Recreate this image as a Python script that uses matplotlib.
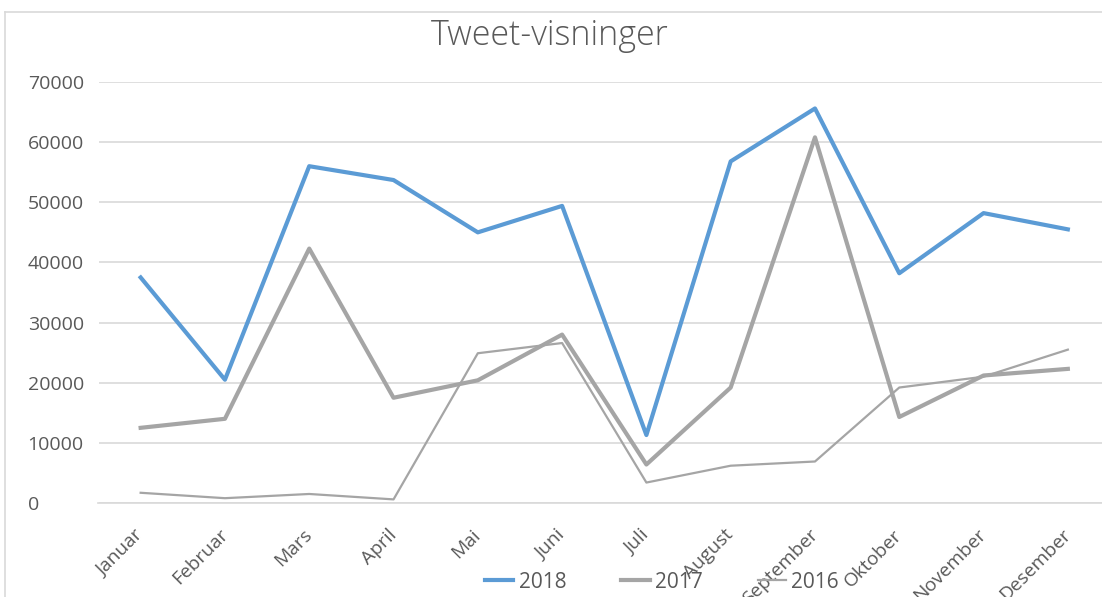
import matplotlib
matplotlib.use("Agg")
import matplotlib.pyplot as plt
import matplotlib.transforms as mtransforms
from matplotlib.lines import Line2D

months = ["Januar", "Februar", "Mars", "April", "Mai", "Juni", "Juli",
          "August", "September", "Oktober", "November", "Desember"]
views_2018 = [37500, 20500, 56000, 53700, 45000, 49400, 11300, 56800, 65600, 38200, 48200, 45500]
views_2017 = [12500, 14000, 42300, 17500, 20400, 28000, 6400, 19200, 60800, 14300, 21200, 22300]
views_2016 = [1700, 800, 1500, 600, 24900, 26600, 3400, 6200, 6900, 19200, 21000, 25500]
y_ticks = [0, 10000, 20000, 30000, 40000, 50000, 60000, 70000]

BLUE = "#5B9BD5"
GREY = "#A5A5A5"
TEXT = "#595959"
GRID = "#D9D9D9"

plt.rcParams["font.family"] = ["Open Sans", "DejaVu Sans"]

fig = plt.figure(figsize=(11.02, 5.97), dpi=100)
fig.patch.set_facecolor("white")
ax = fig.add_axes([98.5 / 1102, 94 / 597, 1011.5 / 1102, 421 / 597])

x = list(range(len(months)))
ax.plot(x, views_2018, color=BLUE, lw=3.0, label="2018", solid_joinstyle="round", zorder=4)
ax.plot(x, views_2017, color=GREY, lw=3.0, label="2017", solid_joinstyle="round", zorder=3)
ax.plot(x, views_2016, color=GREY, lw=1.6, label="2016", solid_joinstyle="round", zorder=2)

ax.set_xlim(-0.5, len(months) - 0.5)
ax.set_ylim(0, 70000)
ax.set_yticks(y_ticks)
ax.set_yticklabels([str(v) for v in y_ticks])
ax.yaxis.grid(True, color=GRID, lw=1.2)
ax.set_axisbelow(True)
for s in ("left", "right", "top"):
    ax.spines[s].set_visible(False)
ax.spines["bottom"].set_color(GRID)
ax.spines["bottom"].set_linewidth(1.2)

ax.tick_params(axis="y", length=0, pad=51, labelsize=14, labelcolor=TEXT)
for lbl in ax.get_yticklabels():
    lbl.set_horizontalalignment("left")

ax.set_xticks(x)
ax.set_xticklabels(months, rotation=45, ha="right", va="center", rotation_mode="anchor")
ax.tick_params(axis="x", length=0, pad=21, labelsize=13.8, labelcolor=TEXT)
shift = mtransforms.ScaledTranslation(0, 0, fig.dpi_scale_trans)
for lbl in ax.get_xticklabels():
    lbl.set_transform(lbl.get_transform() + shift)

fig.text(550 / 1102, 1 - 36 / 597, "Tweet-visninger", ha="center", va="center",
         fontsize=24.5, color=TEXT, fontweight="light")

leg = fig.legend(loc="center", bbox_to_anchor=(662 / 1102, 1 - 582 / 597), ncol=3,
                 frameon=False, fontsize=15, handlelength=1.35, handletextpad=0.25,
                 columnspacing=2.65, labelcolor=TEXT)

# chart area border (left and top visible)
fig.add_artist(Line2D([5 / 1102, 5 / 1102], [0, 1 - 12 / 597], transform=fig.transFigure,
                      color=GRID, lw=1.2))
fig.add_artist(Line2D([5 / 1102, 1], [1 - 12 / 597, 1 - 12 / 597], transform=fig.transFigure,
                      color=GRID, lw=1.2))

fig.savefig("out.png", dpi=100)
